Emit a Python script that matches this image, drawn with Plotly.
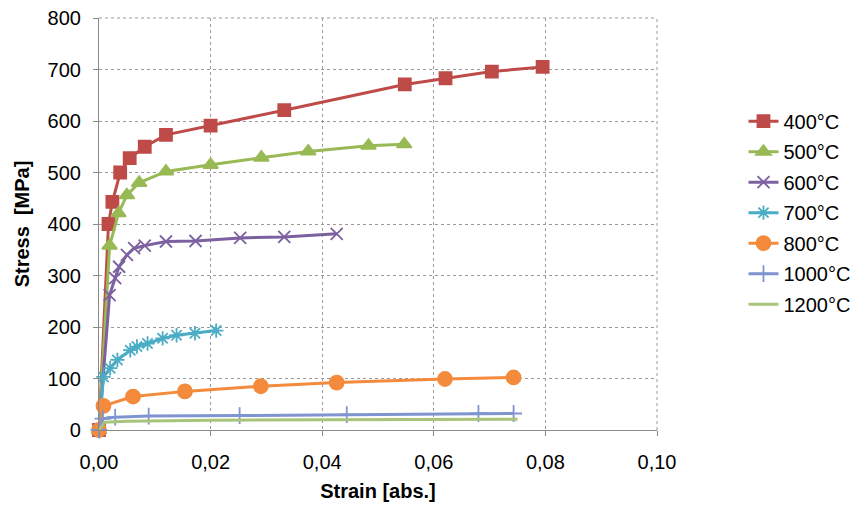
import plotly.graph_objects as go

# ---- data (strain [abs.], stress [MPa]) ----
labels = ["400°C", "500°C", "600°C", "700°C", "800°C", "1000°C", "1200°C"]

strain_400 = [0.0, 0.0017, 0.0024, 0.0038, 0.0055, 0.0082, 0.0120, 0.0200, 0.0332, 0.0548, 0.0621, 0.0704, 0.0795]
stress_400 = [0, 400, 443, 500, 528, 550, 573, 591, 621, 671, 683, 696, 705]

strain_500 = [0.0, 0.0019, 0.0035, 0.0050, 0.0072, 0.0120, 0.0200, 0.0291, 0.0375, 0.0483, 0.0547]
stress_500 = [0, 358, 421, 456, 480, 502, 515, 529, 541, 552, 555]

strain_600 = [0.0, 0.0019, 0.0029, 0.0036, 0.0050, 0.0063, 0.0082, 0.0120, 0.0173, 0.0253, 0.0332, 0.0426]
stress_600 = [0, 262, 295, 317, 340, 353, 358, 366, 367, 373, 375, 381]

strain_700 = [0.0, 0.0008, 0.0020, 0.0033, 0.0056, 0.0068, 0.0087, 0.0114, 0.0139, 0.0172, 0.0210]
stress_700 = [0, 103, 120, 136, 155, 162, 168, 178, 184, 188, 193]

strain_800 = [0.0, 0.0008, 0.0061, 0.0154, 0.0290, 0.0426, 0.0620, 0.0743]
stress_800 = [0, 47, 65, 75, 85, 92, 99, 102]

strain_1000 = [0.0, 0.0007, 0.0029, 0.0089, 0.0252, 0.0444, 0.0680, 0.0743]
stress_1000 = [0, 22, 25, 27, 28, 30, 32, 32]

strain_1200 = [0.0, 0.0010, 0.0050, 0.0200, 0.0400, 0.0600, 0.0750]
stress_1200 = [0, 15, 17, 19, 20, 21, 21]

x_tickvals = [0.0, 0.02, 0.04, 0.06, 0.08, 0.10]
y_tickvals = [0, 100, 200, 300, 400, 500, 600, 700, 800]

series = [
    (strain_400, stress_400, "#BE4B48", "square", 12),
    (strain_500, stress_500, "#98B954", "triangle-up", 13),
    (strain_600, stress_600, "#7D60A0", "x-thin", 12),
    (strain_700, stress_700, "#4AACC5", "asterisk", 12),
    (strain_800, stress_800, "#F38A3C", "circle", 14),
    (strain_1000, stress_1000, "#7F94D0", "cross-thin", 12),
    (strain_1200, stress_1200, "#A8C47A", None, 0),
]

fig = go.Figure()
for (xs, ys, col, sym, sz), name in zip(series, labels):
    if sym is None:
        mode = "lines"
        marker = None
    else:
        mode = "lines+markers"
        marker = dict(symbol=sym, size=sz, color=col,
                      line=dict(color=col, width=1.8))
    fig.add_trace(go.Scatter(
        x=xs, y=ys, name=name, mode=mode,
        line=dict(color=col, width=3),
        marker=marker, cliponaxis=False, legendgroup=name,
    ))

axis_font = dict(family="Liberation Sans, Arial, sans-serif", size=20, color="#000000")

fig.update_layout(
    width=859, height=508,
    margin=dict(l=99, r=202, t=18, b=78, autoexpand=False),
    paper_bgcolor="white", plot_bgcolor="white",
    separators=",.",
    font=axis_font,
    showlegend=True,
    legend=dict(
        x=1.155, y=0.797, xanchor="left", yanchor="top",
        font=dict(family="Liberation Sans, Arial, sans-serif", size=20, color="#000000"),
        traceorder="grouped", tracegroupgap=1.5,
        bgcolor="rgba(0,0,0,0)",
    ),
    xaxis=dict(
        range=[0, 0.10], tickvals=x_tickvals, tickformat=".2f",
        showgrid=True, gridcolor="#9A9A9A", griddash="3px,3px", gridwidth=1,
        showline=True, linecolor="#8A8A8A", linewidth=1.2,
        ticks="outside", ticklen=5, tickcolor="#8A8A8A",
        ticklabelstandoff=9, automargin=False,
        zeroline=False,
        title=dict(text="<b>Strain [abs.]</b>", font=dict(size=20), standoff=11),
    ),
    yaxis=dict(
        range=[0, 800], tickvals=y_tickvals,
        showgrid=True, gridcolor="#9A9A9A", griddash="3px,3px", gridwidth=1,
        showline=True, linecolor="#8A8A8A", linewidth=1.2,
        ticks="outside", ticklen=5, tickcolor="#8A8A8A",
        ticklabelstandoff=8, automargin=False,
        zeroline=False,
        title=dict(text="<b>Stress\u00a0 [MPa]</b>", font=dict(size=20), standoff=12),
    ),
)

# top / right dashed border like the reference
fig.add_shape(type="line", xref="paper", yref="paper", x0=0, x1=1, y0=1, y1=1,
              line=dict(color="#9A9A9A", width=1, dash="3px,3px"))
fig.add_shape(type="line", xref="paper", yref="paper", x0=1, x1=1, y0=0, y1=1,
              line=dict(color="#9A9A9A", width=1, dash="3px,3px"))

fig.write_html("out.html")
